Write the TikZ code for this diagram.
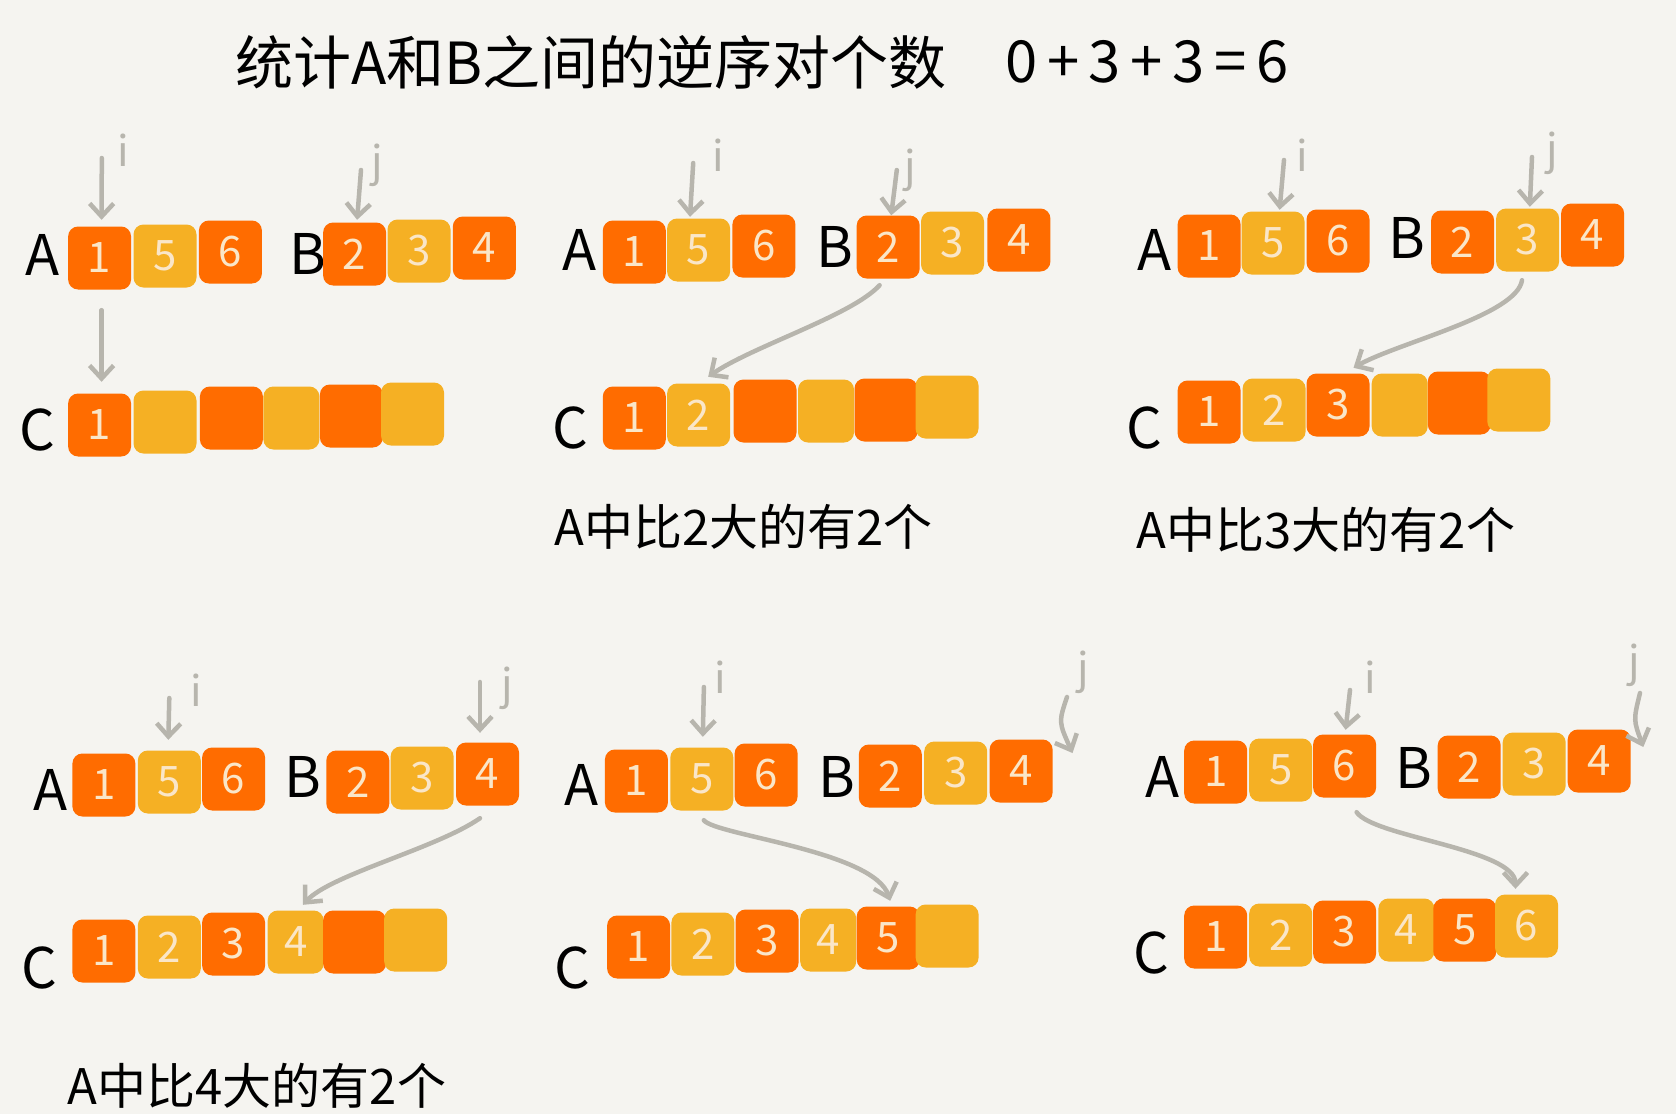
\documentclass[tikz,border=0pt]{standalone}
\usepackage{fontspec}
\setmainfont{Noto Sans CJK SC}
\usetikzlibrary{arrows.meta,calc}
\definecolor{bg}{RGB}{245,244,240}
\definecolor{org}{RGB}{255,108,0}
\definecolor{ylw}{RGB}{245,176,36}
\definecolor{cream}{RGB}{250,230,200}
\definecolor{arr}{RGB}{183,181,173}
\begin{document}
\begin{tikzpicture}[x=1pt,y=-1pt,
  bx/.style={rounded corners=10pt, minimum width=63pt, minimum height=63pt, inner sep=0pt, text=cream, font=\fontsize{42}{44}\selectfont},
  ob/.style={bx, fill=org},
  yb/.style={bx, fill=ylw},
  nar/.style={minimum width=56pt},
  lbl/.style={inner sep=0pt, font=\fontsize{56}{58}\selectfont},
  ptr/.style={draw=arr, line width=4.5pt, line cap=round, -{Straight Barb[length=13pt,width=24pt]}},
  idx/.style={inner sep=0pt, text=arr, font=\fontsize{42}{44}\selectfont},
  capt/.style={inner sep=0pt, font=\fontsize{49}{51}\selectfont},
]
\useasboundingbox (0,0) rectangle (1676,1114);
\fill[bg] (0,0) rectangle (1676,1114);

% title
\node[inner sep=0pt, anchor=west, font=\fontsize{58}{60}\selectfont] (title) at (235,62) {统计A和B之间的逆序对个数};
\node[inner sep=0pt, anchor=west, font=\fontsize{58}{60}\selectfont] (sum) at (1005,62) {0\,+\,3\,+\,3\,=\,6};

% ===== Panel 1 =====
\node[lbl] (p1A) at (43,255) {A};
\node[ob] (p1a1) at (99.6,258) {1};
\node[yb] (p1a2) at (165,256) {5};
\node[ob] (p1a3) at (230.4,252) {6};
\node[lbl] (p1B) at (307.5,254) {B};
\node[ob] (p1b1) at (354.6,254) {2};
\node[yb] (p1b2) at (419,251) {3};
\node[ob] (p1b3) at (484.3,248) {4};
\node[lbl] (p1C) at (37.5,430) {C};
\node[ob] (p1c1) at (99.6,425) {1};
\node[yb] (p1c2) at (165,422) {};
\node[ob] (p1c3) at (231.4,418) {};
\node[yb,nar] (p1c4) at (291.4,418) {};
\node[ob] (p1c5) at (351.4,416) {};
\node[yb] (p1c6) at (412.5,414) {};
\coordinate (p1is) at (101.8,158);
\coordinate (p1js) at (361,170);
\node[idx] (p1i) at (123,150) {i};
\node[idx] (p1j) at (377,165) {j};
\draw[ptr] (p1is) -- ($(p1a1.north)+(2,-6.5)$);
\draw[ptr] (p1js) -- ($(p1b1.north)+(2.5,-2.5)$);
\draw[ptr] ($(p1a1.south)+(2,20.5)$) -- ($(p1c1.north)+(2,-11.5)$);

% ===== Panel 2 =====
\node[lbl] (p2A) at (579.6,250) {A};
\node[ob] (p2a1) at (634.3,252) {1};
\node[yb] (p2a2) at (698.6,250) {5};
\node[ob] (p2a3) at (763.9,246) {6};
\node[lbl] (p2B) at (834.6,247) {B};
\node[ob] (p2b1) at (888.2,247) {2};
\node[yb] (p2b2) at (952.5,243) {3};
\node[ob] (p2b3) at (1018.9,240) {4};
\node[lbl] (p2C) at (570,428) {C};
\node[ob] (p2c1) at (634.3,418) {1};
\node[yb] (p2c2) at (698.6,415) {2};
\node[ob] (p2c3) at (765,411) {};
\node[yb,nar] (p2c4) at (826,411) {};
\node[ob] (p2c5) at (886,410) {};
\node[yb] (p2c6) at (947,407) {};
\coordinate (p2is) at (693.2,163);
\coordinate (p2js) at (896.8,170);
\node[idx] (p2i) at (718,155) {i};
\node[idx] (p2j) at (910,170) {j};
\draw[ptr] (p2is) -- ($(p2a2.north)+(-8.6,-1.5)$);
\draw[ptr] (p2js) -- ($(p2b1.north)+(3,0)$);
\draw[ptr] ($(p2b1.south)+(-8.6,6.5)$) .. controls +(-27,30) and +(43,-30) .. ($(p2c2.north)+(9.6,-6.5)$);
\node[capt] (p2txt) at (743.6,527) {A中比2大的有2个};

% ===== Panel 3 =====
\node[lbl] (p3A) at (1155,250) {A};
\node[ob] (p3a1) at (1209.1,246) {1};
\node[yb] (p3a2) at (1273,243) {5};
\node[ob] (p3a3) at (1338,241) {6};
\node[lbl] (p3B) at (1406.4,238) {B};
\node[ob] (p3b1) at (1462.6,242) {2};
\node[yb] (p3b2) at (1527.6,240) {3};
\node[ob] (p3b3) at (1592.6,235) {4};
\node[lbl] (p3C) at (1144,428) {C};
\node[ob] (p3c1) at (1209.1,412) {1};
\node[yb] (p3c2) at (1274.1,410) {2};
\node[ob] (p3c3) at (1338,405) {3};
\node[yb,nar] (p3c4) at (1399.7,405) {};
\node[ob] (p3c5) at (1459.3,403) {};
\node[yb] (p3c6) at (1518.8,400) {};
\coordinate (p3is) at (1284,160);
\coordinate (p3js) at (1532,157);
\node[idx] (p3i) at (1302,155) {i};
\node[idx] (p3j) at (1552,153) {j};
\draw[ptr] (p3is) -- ($(p3a2.north)+(6.6,-1.5)$);
\draw[ptr] (p3js) -- ($(p3b2.north)+(2.2,-1.5)$);
\draw[ptr] ($(p3b2.south)+(-5.6,8.5)$) .. controls +(-5,35) and +(44,-25) .. ($(p3c3.north)+(15.5,-5.5)$);
\node[capt] (p3txt) at (1326,530) {A中比3大的有2个};

% ===== Panel 4 =====
\node[lbl] (p4A) at (50.4,790) {A};
\node[ob] (p4a1) at (103.9,785) {1};
\node[yb] (p4a2) at (169.3,782) {5};
\node[ob] (p4a3) at (233.6,779) {6};
\node[lbl] (p4B) at (303.2,777) {B};
\node[ob] (p4b1) at (357.8,782) {2};
\node[yb] (p4b2) at (422.1,778) {3};
\node[ob] (p4b3) at (487.5,774) {4};
\node[lbl] (p4C) at (39.6,968) {C};
\node[ob] (p4c1) at (103.9,951) {1};
\node[yb] (p4c2) at (169.3,947) {2};
\node[ob] (p4c3) at (233.6,944) {3};
\node[yb,nar] (p4c4) at (295.7,942) {4};
\node[ob] (p4c5) at (354.6,942) {};
\node[yb] (p4c6) at (415.7,940) {};
\coordinate (p4is) at (169.3,698);
\coordinate (p4js) at (480,682);
\node[idx] (p4i) at (196,690) {i};
\node[idx] (p4j) at (507,688) {j};
\draw[ptr] (p4is) -- ($(p4a2.north)+(-1,-10.5)$);
\draw[ptr] (p4js) -- ($(p4b3.north)+(-7.5,-9.5)$);
\draw[ptr] ($(p4b3.south)+(-7.5,12.5)$) .. controls +(-43,30) and +(27,-30) .. ($(p4c4.north)+(7.3,-5.5)$);
\node[capt] (p4txt) at (257,1086) {A中比4大的有2个};

% ===== Panel 5 =====
\node[lbl] (p5A) at (581.8,785) {A};
\node[ob] (p5a1) at (636.4,781) {1};
\node[yb] (p5a2) at (701.8,779) {5};
\node[ob] (p5a3) at (766.1,775) {6};
\node[lbl] (p5B) at (836.8,777) {B};
\node[ob] (p5b1) at (890.3,776) {2};
\node[yb] (p5b2) at (955.7,773) {3};
\node[ob] (p5b3) at (1021.1,771) {4};
\node[lbl] (p5C) at (572.1,968) {C};
\node[ob] (p5c1) at (638.6,947) {1};
\node[yb] (p5c2) at (702.9,944) {2};
\node[ob] (p5c3) at (767.1,941) {3};
\node[yb,nar] (p5c4) at (828.2,940) {4};
\node[ob] (p5c5) at (888.2,938) {5};
\node[yb] (p5c6) at (947.1,936) {};
\coordinate (p5is) at (703.9,687);
\coordinate (p5js) at (1067,697);
\coordinate (p5je) at (1072.5,753);
\node[idx] (p5i) at (720,677) {i};
\node[idx] (p5j) at (1083,672) {j};
\draw[ptr] (p5is) -- ($(p5a2.north)+(1,-10.5)$);
\draw[ptr] (p5js) .. controls (1058.6,722) .. (p5je);
\draw[ptr] ($(p5a2.south)+(2,9.5)$) .. controls +(11,15) and +(-16,-50) .. ($(p5c5.north)+(2,-5.5)$);

% ===== Panel 6 =====
\node[lbl] (p6A) at (1162.8,777) {A};
\node[ob] (p6a1) at (1215.7,772) {1};
\node[yb] (p6a2) at (1280.7,770) {5};
\node[ob] (p6a3) at (1344.6,766) {6};
\node[lbl] (p6B) at (1414,768) {B};
\node[ob] (p6b1) at (1469.2,767) {2};
\node[yb] (p6b2) at (1534.2,764) {3};
\node[ob] (p6b3) at (1599.2,761) {4};
\node[lbl] (p6C) at (1151.8,953) {C};
\node[ob] (p6c1) at (1215.7,937) {1};
\node[yb] (p6c2) at (1280.7,935) {2};
\node[ob] (p6c3) at (1344.6,932) {3};
\node[yb,nar] (p6c4) at (1406.4,930) {4};
\node[ob] (p6c5) at (1464.8,930) {5};
\node[yb] (p6c6) at (1526.5,926) {6};
\coordinate (p6is) at (1350,690);
\coordinate (p6js) at (1640,693);
\coordinate (p6je) at (1643.3,747);
\node[idx] (p6i) at (1370,677) {i};
\node[idx] (p6j) at (1634.5,665) {j};
\draw[ptr] (p6is) -- ($(p6a3.north)+(1,-4.5)$);
\draw[ptr] (p6js) .. controls (1633.4,720) .. (p6je);
\draw[ptr] ($(p6a3.south)+(12,14.5)$) .. controls +(17,25) and +(0,-40) .. ($(p6c6.north)+(-11,-5.5)$);
\end{tikzpicture}
\end{document}
